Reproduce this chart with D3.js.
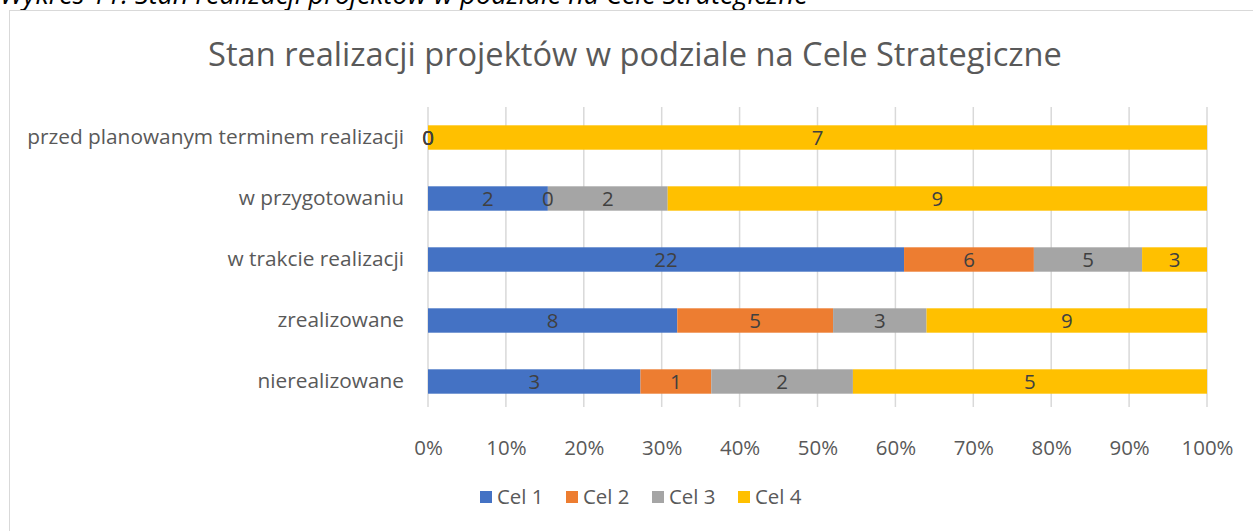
<!DOCTYPE html>
<html>
<head>
<meta charset="utf-8">
<script src="https://cdn.jsdelivr.net/npm/d3@7"></script>
<style>
  body { margin: 0; background: #fff; }
  svg { display: block; font-family: "Open Sans", sans-serif; }
</style>
</head>
<body>
<script>
// data
var categories = ["przed planowanym terminem realizacji", "w przygotowaniu", "w trakcie realizacji", "zrealizowane", "nierealizowane"];
var seriesNames = ["Cel 1", "Cel 2", "Cel 3", "Cel 4"];
var cel1 = [0, 2, 22, 8, 3];
var cel2 = [0, 0, 6, 5, 1];
var cel3 = [0, 2, 5, 3, 2];
var cel4 = [7, 9, 3, 9, 5];
var tickLabels = [0, 0.1, 0.2, 0.3, 0.4, 0.5, 0.6, 0.7, 0.8, 0.9, 1];
var colors = ["#4472C4", "#ED7D31", "#A5A5A5", "#FFC000"];

var w = 1253, h = 531;
var svg = d3.select("body").append("svg").attr("width", w).attr("height", h);

// pick a font size so a text gets the width it has in the picture
function fitSize(str, width, italic){
  var t = svg.append("text").attr("font-size", 100).attr("font-style", italic ? "italic" : null).text(str);
  var len = t.node().getComputedTextLength();
  t.remove();
  return 100 * width / len;
}
var labelSize = fitSize(categories[0], 377);
var tickSize = fitSize("100%", 52);

// caption, cut off by the page top
svg.append("text").attr("x", 0).attr("y", 4)
  .attr("font-size", fitSize("Wykres 11. Stan realizacji projektów w podziale na Cele Strategiczne", 808, true))
  .attr("font-style", "italic").attr("fill", "#000")
  .text("Wykres 11. Stan realizacji projektów w podziale na Cele Strategiczne");

// chart frame
svg.append("rect").attr("x", 9.5).attr("y", 10.5).attr("width", 1300).attr("height", 600)
  .attr("fill", "#fff").attr("stroke", "#d9d9d9").attr("stroke-width", 1);

var title = "Stan realizacji projektów w podziale na Cele Strategiczne";
svg.append("text").attr("x", 635).attr("y", 66).attr("text-anchor", "middle")
  .attr("font-size", fitSize(title, 854)).attr("fill", "#595959")
  .text(title);

var series = [cel1, cel2, cel3, cel4];
var rows = categories.map(function(c, i){
  var total = d3.sum(series, function(s){ return s[i]; });
  var acc = 0;
  var segs = series.map(function(s, k){
    var seg = {k: k, v: s[i], x0: acc / total, x1: (acc + s[i]) / total};
    acc += s[i];
    return seg;
  });
  return {cat: c, segs: segs};
});

var x = d3.scaleLinear().domain([0, 1]).range([428, 1207]);
var y = d3.scaleBand().domain(categories).range([107, 412]).paddingInner(0.6).paddingOuter(0.3);

// gridlines
svg.append("g").selectAll("line").data(tickLabels).join("line")
  .attr("x1", function(d){ return x(d); }).attr("x2", function(d){ return x(d); })
  .attr("y1", 107).attr("y2", 407)
  .attr("stroke", "#d9d9d9").attr("stroke-width", 1.5);

var xAxis = svg.append("g").attr("transform", "translate(0,407)")
  .call(d3.axisBottom(x).tickValues(tickLabels).tickFormat(d3.format(".0%")).tickSize(0).tickPadding(33));
xAxis.select(".domain").remove();
xAxis.selectAll("text").attr("font-size", tickSize).attr("fill", "#595959").attr("font-family", "'Open Sans', sans-serif");

var yAxis = svg.append("g").attr("transform", "translate(404,0)")
  .call(d3.axisLeft(y).tickSize(0).tickPadding(0));
yAxis.select(".domain").remove();
yAxis.selectAll("text").attr("font-size", labelSize).attr("fill", "#595959").attr("font-family", "'Open Sans', sans-serif");

var rowG = svg.append("g").selectAll("g").data(rows).join("g")
  .attr("transform", function(d){ return "translate(0," + y(d.cat) + ")"; });

rowG.selectAll("rect").data(function(d){ return d.segs; }).join("rect")
  .attr("x", function(d){ return x(d.x0); })
  .attr("width", function(d){ return x(d.x1) - x(d.x0); })
  .attr("height", y.bandwidth())
  .attr("fill", function(d){ return colors[d.k]; });

rowG.selectAll("text").data(function(d){ return d.segs; }).join("text")
  .attr("x", function(d){ return (x(d.x0) + x(d.x1)) / 2; })
  .attr("y", y.bandwidth() / 2)
  .attr("dy", "0.36em")
  .attr("text-anchor", "middle")
  .attr("font-size", tickSize).attr("fill", "#404040")
  .text(function(d){ return d.v; });

// legend
var leg = svg.append("g").selectAll("g").data(seriesNames).join("g")
  .attr("transform", function(d, i){ return "translate(" + (480 + i * 86) + ",491)"; });
leg.append("rect").attr("width", 12).attr("height", 12).attr("fill", function(d, i){ return colors[i]; });
leg.append("text").attr("x", 17).attr("y", 6).attr("dy", "0.36em")
  .attr("font-size", tickSize).attr("fill", "#595959").text(function(d){ return d; });
</script>
</body>
</html>
